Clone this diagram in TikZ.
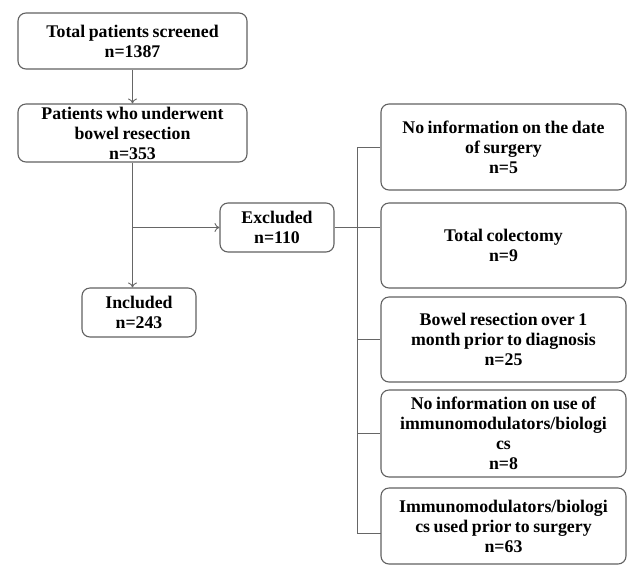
\documentclass[tikz,border=0pt]{standalone}
\usepackage{fontspec}
\setmainfont{Liberation Serif}
\usetikzlibrary{arrows.meta}
\newcommand\myboxfont{\fontsize{17.8}{20}\selectfont\bfseries\spaceskip=0.2em plus 0.05em\relax}
\begin{document}
\begin{tikzpicture}[x=1pt,y=-1pt,
  box/.style={draw=black!62, line width=1.1pt, rounded corners=8pt, align=center,
    inner sep=0pt, font=\myboxfont, text=black},
  conn/.style={draw=black!60, line width=0.9pt},
  arr/.style={conn, -{To[length=5pt,width=9pt]}}]
\useasboundingbox (0,0) rectangle (629,566);
\node[box, minimum width=229pt, minimum height=56pt] (b1) at (132.5,41) {Total patients screened\\n=1387};
\node[box, minimum width=229pt, minimum height=58pt] (b2) at (132.5,133) {Patients who underwent\\bowel resection\\n=353};
\node[box, minimum width=114pt, minimum height=49pt] (inc) at (139,312.5) {Included\\n=243};
\node[box, minimum width=114pt, minimum height=49pt] (exc) at (277,227.5) {Excluded\\n=110};
\node[box, minimum width=245pt, minimum height=86pt] (r1) at (503.5,147) {No information on the date\\of surgery\\n=5};
\node[box, minimum width=245pt, minimum height=85pt] (r2) at (503.5,245.5) {Total colectomy\\n=9};
\node[box, minimum width=245pt, minimum height=85pt] (r3) at (503.5,339.5) {Bowel resection over 1\\month prior to diagnosis\\n=25};
\node[box, minimum width=245pt, minimum height=87pt] (r4) at (503.5,433.5) {No information on use of\\immunomodulators/biologi\\cs\\n=8};
\node[box, minimum width=245pt, minimum height=76pt] (r5) at (503.5,526) {Immunomodulators/biologi\\cs used prior to surgery\\n=63};
\coordinate (sx) at (357,0);
\coordinate (r2c) at (r2.west |- exc.east);
\coordinate (r5c) at (381,533);
\draw[arr] (b1) -- (b2);
\draw[arr] (b2.south) -- (b2.south |- inc.north);
\draw[arr] (b2.south |- exc.west) -- (exc.west);
\draw[conn] (exc.east) -- (r2c);
\draw[conn] (r1.west) -- (r1.west -| sx) -- (r5c -| sx) -- (r5c);
\draw[conn] (r3.west -| sx) -- (r3.west);
\draw[conn] (r4.west -| sx) -- (r4.west);
\end{tikzpicture}
\end{document}
